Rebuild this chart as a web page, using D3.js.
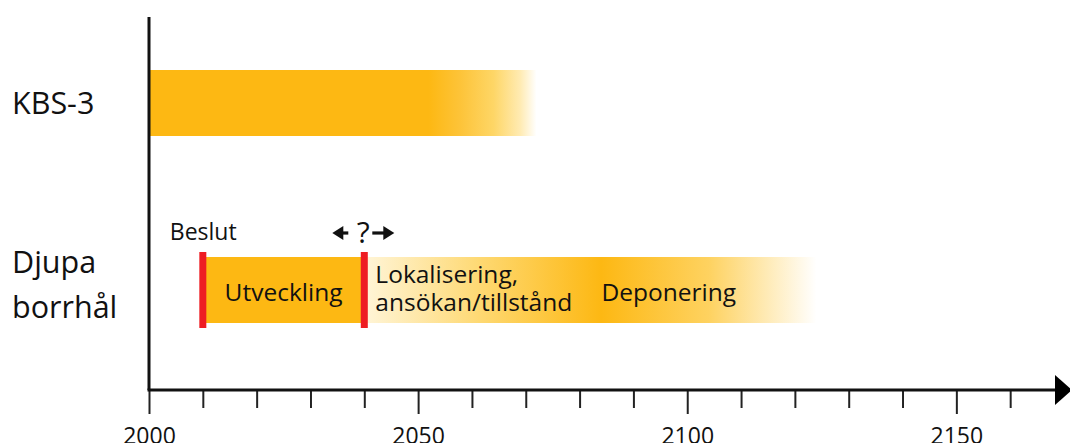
<!DOCTYPE html>
<html>
<head>
<meta charset="utf-8">
<script src="https://cdn.jsdelivr.net/npm/d3@7"></script>
<style>
  html, body { margin: 0; padding: 0; background: #fff; }
  svg { display: block; font-family: "Open Sans", "Noto Sans", sans-serif; }
</style>
</head>
<body>
<svg id="chart" width="1070" height="443"></svg>
<script>
// Rows of the timeline
const rows = ["KBS-3", "Djupa borrhål"];
const rowLabels = [["KBS-3"], ["Djupa", "borrhål"]];

// Year axis
const yearDomain = [2000, 2170];
const tickYears = [2000, 2010, 2020, 2030, 2040, 2050, 2060, 2070, 2080, 2090,
                   2100, 2110, 2120, 2130, 2140, 2150, 2160];
const labelYears = [2000, 2050, 2100, 2150];

// KBS-3: ongoing from 2000, fading out around 2072
const kbsStart = 2000;
const kbsFade = [2052, 2058, 2064, 2069, 2072];
const kbsFadeColors = ["#FDB813", "#FDC43A", "#FED666", "#FFEBB3", "#FFFFFF"];

// Deep boreholes: development phase, then siting/licensing and disposal
const devStart = 2010;
const devEnd = 2040;
const dispStops = [2040, 2062, 2084, 2104, 2124];
const dispColors = ["#FFF5D8", "#FED870", "#FDB813", "#FED260", "#FFFFFF"];
const phaseLabels = ["Utveckling", "Lokalisering,", "ansökan/tillstånd", "Deponering"];
const phaseLabelYears = [2025, 2041.5, 2041.5, 2083.5];
const decisionYears = [2010, 2040];
const decisionLabels = ["Beslut", "?"];

const orange = "#FDB813";
const red = "#EE1D23";

const svg = d3.select("#chart");
const x = d3.scaleLinear().domain(yearDomain).range([149, 1064]);
const y = d3.scalePoint().domain(rows).range([103, 290]);
const barH = 66;
const axisY = 390;

// Gradients
const defs = svg.append("defs");
function gradient(id, years, colors) {
  const g = defs.append("linearGradient").attr("id", id)
    .attr("gradientUnits", "userSpaceOnUse")
    .attr("x1", x(years[0])).attr("x2", x(years[years.length - 1]))
    .attr("y1", 0).attr("y2", 0);
  const span = years[years.length - 1] - years[0];
  years.forEach((yr, i) => {
    g.append("stop").attr("offset", (yr - years[0]) / span).attr("stop-color", colors[i]);
  });
}
gradient("kbsGrad", [kbsStart].concat(kbsFade), [orange].concat(kbsFadeColors));
gradient("dispGrad", dispStops, dispColors);

// KBS-3 bar
svg.append("rect")
  .attr("x", x(kbsStart)).attr("width", x(kbsFade[kbsFade.length - 1]) - x(kbsStart))
  .attr("y", y(rows[0]) - barH / 2).attr("height", barH)
  .attr("fill", "url(#kbsGrad)");

// Deep borehole bars
svg.append("rect")
  .attr("x", x(devEnd)).attr("width", x(dispStops[dispStops.length - 1]) - x(devEnd))
  .attr("y", y(rows[1]) - barH / 2).attr("height", barH)
  .attr("fill", "url(#dispGrad)");
svg.append("rect")
  .attr("x", x(devStart)).attr("width", x(devEnd) - x(devStart))
  .attr("y", y(rows[1]) - barH / 2).attr("height", barH)
  .attr("fill", orange);

// Decision markers
svg.selectAll("rect.decision").data(decisionYears).enter().append("rect")
  .attr("class", "decision")
  .attr("x", d => x(d) - 3.5).attr("width", 7)
  .attr("y", y(rows[1]) - barH / 2 - 5).attr("height", barH + 10)
  .attr("fill", red);

// Phase labels
const phaseFont = 24.5;
svg.append("text").attr("x", x(phaseLabelYears[0])).attr("y", 301)
  .attr("text-anchor", "middle").attr("font-size", phaseFont).attr("fill", "#111")
  .text(phaseLabels[0]);
svg.append("text").attr("x", x(phaseLabelYears[1]) + 3).attr("y", 283)
  .attr("font-size", phaseFont).attr("fill", "#111").text(phaseLabels[1]);
svg.append("text").attr("x", x(phaseLabelYears[2]) + 3).attr("y", 311)
  .attr("font-size", phaseFont).attr("fill", "#111").text(phaseLabels[2]);
svg.append("text").attr("x", x(phaseLabelYears[3]) + 3).attr("y", 301)
  .attr("font-size", phaseFont).attr("fill", "#111").text(phaseLabels[3]);

// Decision labels
svg.append("text").attr("x", x(decisionYears[0]) - 33).attr("y", 240)
  .attr("font-size", 23).attr("fill", "#111").text(decisionLabels[0]);
const qx = x(decisionYears[1]);
svg.append("text").attr("x", qx - 1).attr("y", 243)
  .attr("text-anchor", "middle").attr("font-size", 30).attr("fill", "#111")
  .text(decisionLabels[1]);
// Two-way arrow around the question mark
function arrow(x0, x1, yy) {
  const dir = Math.sign(x1 - x0);
  const p = d3.path();
  p.moveTo(x0, yy); p.lineTo(x1 - dir * 6, yy);
  svg.append("path").attr("d", p.toString()).attr("stroke", "#111").attr("stroke-width", 3.2);
  const h = d3.path();
  h.moveTo(x1, yy); h.lineTo(x1 - dir * 11, yy - 7); h.lineTo(x1 - dir * 11, yy + 7); h.closePath();
  svg.append("path").attr("d", h.toString()).attr("fill", "#111");
}
arrow(qx - 16, qx - 32, 233);
arrow(qx + 8, qx + 30, 233);

// Row labels
const rowBaselines = [[11], [-17, 28]];
rowLabels.forEach((lines, i) => {
  const cy = y(rows[i]);
  lines.forEach((t, j) => {
    svg.append("text")
      .attr("x", 12)
      .attr("y", cy + rowBaselines[i][j])
      .attr("font-size", 30.5).attr("fill", "#111")
      .text(t);
  });
});

// Vertical axis line
svg.append("line").attr("x1", x(yearDomain[0])).attr("x2", x(yearDomain[0]))
  .attr("y1", 17).attr("y2", axisY).attr("stroke", "#111").attr("stroke-width", 3);

// Horizontal axis with ticks
const axis = d3.axisBottom(x)
  .tickValues(tickYears)
  .tickSize(18)
  .tickPadding(0)
  .tickFormat(d => labelYears.includes(d) ? String(d) : "");
const ag = svg.append("g").attr("transform", `translate(0,${axisY})`).call(axis);
ag.select(".domain").remove();
ag.selectAll(".tick line")
  .attr("stroke", "#222").attr("stroke-width", 2)
  .attr("y2", d => labelYears.includes(d) ? 24 : 18);
ag.selectAll(".tick text")
  .attr("y", 54).attr("dy", 0)
  .attr("font-size", 23).attr("fill", "#111")
  .attr("font-family", "'Open Sans', 'Noto Sans', sans-serif");

// Axis line with arrowhead
const endX = x(yearDomain[1]);
svg.append("line").attr("x1", x(yearDomain[0]) - 1.5).attr("x2", endX - 4)
  .attr("y1", axisY).attr("y2", axisY).attr("stroke", "#111").attr("stroke-width", 3);
const ah = d3.path();
ah.moveTo(endX - 9, axisY - 15); ah.lineTo(endX + 8, axisY); ah.lineTo(endX - 9, axisY + 15); ah.closePath();
svg.append("path").attr("d", ah.toString()).attr("fill", "#000");
</script>
</body>
</html>
